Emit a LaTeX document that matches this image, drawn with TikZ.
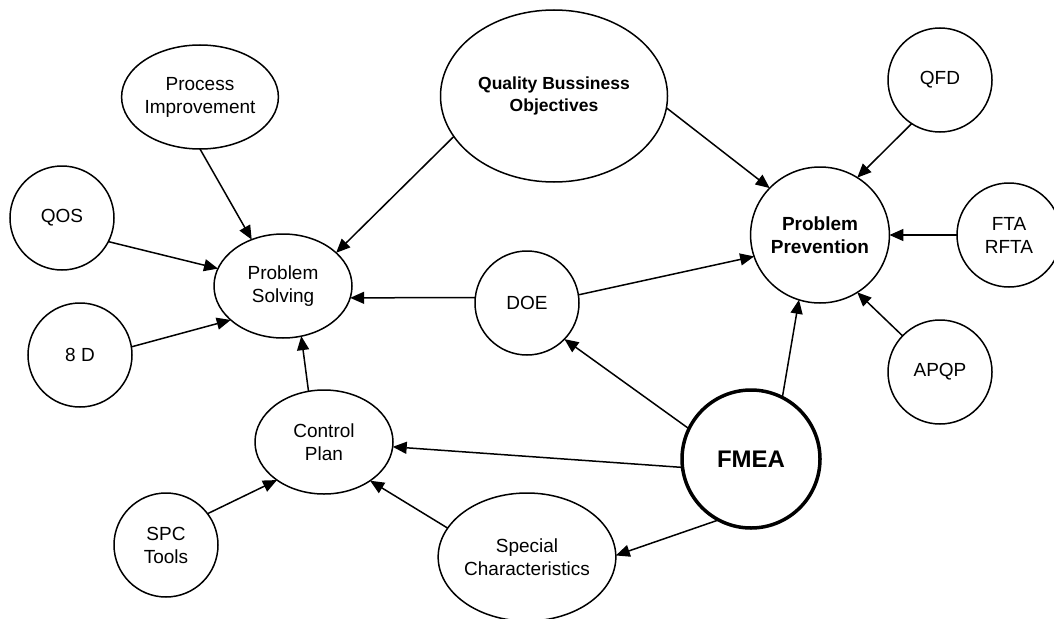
\documentclass[tikz,border=0pt]{standalone}
\usepackage{fontspec}
\setmainfont{Liberation Sans}
\usetikzlibrary{shapes.geometric,arrows.meta}
\begin{document}
\begin{tikzpicture}[x=1pt,y=-1pt,
  bub/.style={ellipse,draw,line width=1.5pt,inner sep=0pt,outer sep=0pt,align=center,font=\fontsize{19}{23}\selectfont},
  circ/.style={bub,minimum width=104pt,minimum height=104pt},
  oval/.style={bub,minimum width=138pt,minimum height=104pt},
  boldtxt/.style={font=\fontsize{19}{23}\selectfont\bfseries},
  arr/.style={-{Triangle[length=14pt,width=12pt]},line width=1.5pt}]
\useasboundingbox (0,0) rectangle (1054,618);
\node[oval] (PI) at (200,97) {Process\\Improvement};
\node[circ] (QOS) at (62,218) {QOS};
\node[circ] (ED) at (80,355) {8 D};
\node[oval] (PS) at (283,286) {Problem\\Solving};
\node[bub,minimum width=227pt,minimum height=172pt,font=\fontsize{17.5}{22}\selectfont\bfseries] (QBO) at (554,96) {Quality Bussiness\\Objectives};
\node[circ] (DOE) at (527,303) {DOE};
\node[oval] (CP) at (324,442) {Control\\Plan};
\node[circ] (SPC) at (166,545) {SPC\\Tools};
\node[bub,minimum width=171pt,minimum height=128pt] (SC) at (527,557) {Special\\Characteristics};
\node[bub,line width=3.5pt,minimum width=138pt,minimum height=138pt,font=\fontsize{24}{28}\selectfont\bfseries] (FMEA) at (751,459) {FMEA};
\node[circ,minimum width=136pt,minimum height=136pt,boldtxt] (PP) at (820,235) {Problem\\Prevention};
\node[circ] (QFD) at (940,80) {QFD};
\node[circ] (FTA) at (1009,235) {FTA\\RFTA};
\node[circ] (APQP) at (940,372) {APQP};

\draw[arr] (PI.south) -- (PS.124);
\draw[arr] (QOS.-27) -- (PS.165);
\draw[arr] (ED.9) -- (PS.213);
\draw[arr] (QBO.202) -- (PS.32);
\draw[arr] (DOE.174) -- (PS.350);
\draw[arr] (QBO.-6) -- (PP.137);
\draw[arr] (DOE.9) -- (PP.198);
\draw[arr] (QFD.237) -- (PP.57);
\draw[arr] (FTA.west) -- (PP.east);
\draw[arr] (APQP.136) -- (PP.-57);
\draw[arr] (FMEA.63) -- (PP.252);
\draw[arr] (FMEA.154) -- (DOE.-44);
\draw[arr] (FMEA.187) -- (CP.-4);
\draw[arr] (FMEA.242) -- (SC.1);
\draw[arr] (CP.107) -- (PS.-70);
\draw[arr] (SPC.37) -- (CP.219);
\draw[arr] (SC.160) -- (CP.-40);
\end{tikzpicture}
\end{document}
